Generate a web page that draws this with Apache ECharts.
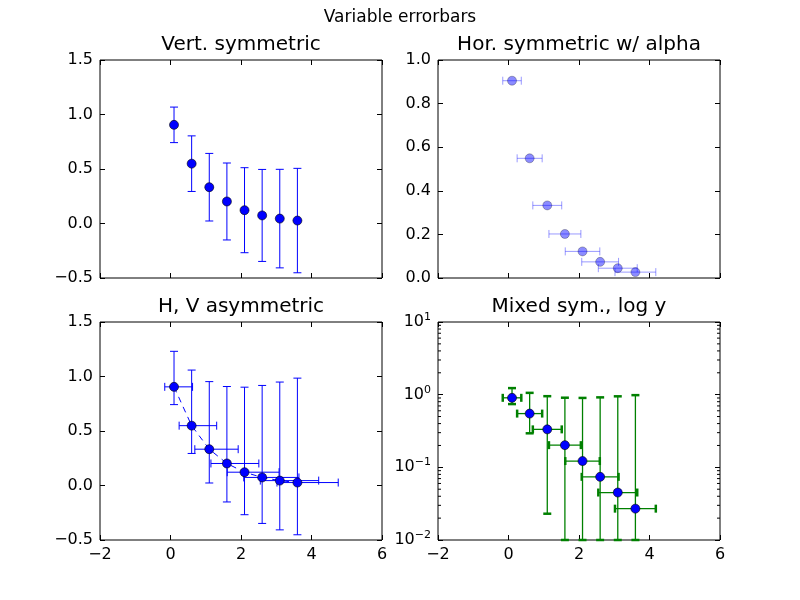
<!DOCTYPE html>
<html>
<head>
<meta charset="utf-8">
<script src="https://cdn.jsdelivr.net/npm/echarts@6/dist/echarts.min.js"></script>
<style>
  html, body { margin: 0; padding: 0; background: #fff; }
  #chart { width: 800px; height: 600px; }
</style>
</head>
<body>
<div id="chart"></div>
<script>
// values
var xs = [0.1, 0.6, 1.1, 1.6, 2.1, 2.6, 3.1, 3.6];
var ys = [0.905, 0.549, 0.333, 0.202, 0.122, 0.074, 0.045, 0.027];
var yErr = [0.163, 0.255, 0.310, 0.353, 0.390, 0.422, 0.452, 0.479];
var xErr = [0.263, 0.355, 0.410, 0.453, 0.490, 0.522, 0.552, 0.579];
// asymmetric (upper side) errors, bottom-left panel
var yErrUp = [0.326, 0.510, 0.620, 0.706, 0.780, 0.844, 0.904, 0.958];
var xErrUp = [0.526, 0.710, 0.820, 0.906, 0.980, 1.044, 1.104, 1.158];
// lower y errors on the log panel (clipped at 0.01)
var yErrLogLow = [0.163, 0.255, 0.310, 0.192, 0.112, 0.064, 0.035, 0.017];

var titles = ['Vert. symmetric', 'Hor. symmetric w/ alpha', 'H, V asymmetric', 'Mixed sym., log y'];
var xTicks = { min: -2, max: 6, interval: 2 };
var logMinor = [0.02, 0.03, 0.04, 0.05, 0.06, 0.07, 0.08, 0.09,
                0.2, 0.3, 0.4, 0.5, 0.6, 0.7, 0.8, 0.9,
                2, 3, 4, 5, 6, 7, 8, 9];

var FONT = 'DejaVu Sans';
var grids = [
    { left: 100, top: 60, width: 282, height: 218 },
    { left: 438, top: 60, width: 282, height: 218 },
    { left: 100, top: 322, width: 282, height: 218 },
    { left: 438, top: 322, width: 282, height: 218 }
];

function minus(s) { return String(s).replace('-', '\u2212'); }

// [x, y, xlo, xhi, ylo, yhi]
function errData(xl, xh, yl, yh) {
    return xs.map(function (x, i) {
        return [x, ys[i],
            x - (xl ? xl[i] : 0), x + (xh ? xh[i] : 0),
            ys[i] - (yl ? yl[i] : 0), ys[i] + (yh ? yh[i] : 0)];
    });
}

function errSeries(idx, data, opt) {
    return {
        type: 'custom',
        xAxisIndex: idx * 2, yAxisIndex: idx * 2,
        data: data,
        encode: { x: 0, y: 1 },
        z: 1,
        silent: true,
        renderItem: function (params, api) {
            var x = api.value(0), y = api.value(1);
            var c = api.coord([x, y]);
            var lo = api.coord([api.value(2), y]);
            var hi = api.coord([api.value(3), y]);
            var bot = api.coord([x, api.value(4)]);
            var top = api.coord([x, api.value(5)]);
            var cap = 4;
            var st = { stroke: opt.color, lineWidth: opt.width, opacity: opt.opacity };
            var capSt = { stroke: opt.color, lineWidth: opt.capWidth, opacity: opt.opacity };
            var kids = [];
            if (opt.horiz) {
                kids.push({ type: 'line', shape: { x1: lo[0], y1: c[1], x2: hi[0], y2: c[1] }, style: st });
                kids.push({ type: 'line', shape: { x1: lo[0], y1: c[1] - cap, x2: lo[0], y2: c[1] + cap }, style: capSt });
                kids.push({ type: 'line', shape: { x1: hi[0], y1: c[1] - cap, x2: hi[0], y2: c[1] + cap }, style: capSt });
            }
            if (opt.vert) {
                kids.push({ type: 'line', shape: { x1: c[0], y1: bot[1], x2: c[0], y2: top[1] }, style: st });
                kids.push({ type: 'line', shape: { x1: c[0] - cap, y1: bot[1], x2: c[0] + cap, y2: bot[1] }, style: capSt });
                kids.push({ type: 'line', shape: { x1: c[0] - cap, y1: top[1], x2: c[0] + cap, y2: top[1] }, style: capSt });
            }
            return { type: 'group', children: kids };
        }
    };
}

function dots(idx, opacity) {
    return {
        type: 'scatter',
        xAxisIndex: idx * 2, yAxisIndex: idx * 2,
        data: xs.map(function (x, i) { return [x, ys[i]]; }),
        symbol: 'circle', symbolSize: 9,
        itemStyle: { color: '#0000ff', borderColor: '#000', borderWidth: 0.6, opacity: opacity },
        z: 3, silent: true
    };
}

var tickStyle = { inside: true, length: 5, lineStyle: { color: '#000' } };
var xAxes = [], yAxes = [];
grids.forEach(function (g, i) {
    var showX = i >= 2;
    var base = {
        gridIndex: i, type: 'value', min: xTicks.min, max: xTicks.max, interval: xTicks.interval,
        axisLine: { show: false, onZero: false },
        axisTick: tickStyle,
        splitLine: { show: false }
    };
    xAxes.push(Object.assign({}, base, {
        position: 'bottom',
        axisLabel: { show: showX, margin: 7, color: '#000', fontFamily: FONT, fontSize: 16, formatter: function (v) { return minus(v); } }
    }));
    xAxes.push(Object.assign({}, base, { position: 'top', axisLabel: { show: false } }));

    var yBase;
    if (i === 3) {
        yBase = { gridIndex: i, type: 'log', logBase: 10, min: 0.01, max: 10 };
    } else if (i === 1) {
        yBase = { gridIndex: i, type: 'value', min: 0, max: 1, interval: 0.2 };
    } else {
        yBase = { gridIndex: i, type: 'value', min: -0.5, max: 1.5, interval: 0.5 };
    }
    Object.assign(yBase, {
        axisLine: { show: false, onZero: false },
        axisTick: tickStyle,
        splitLine: { show: false }
    });
    var lab = { margin: 7, color: '#000', fontFamily: FONT, fontSize: 16 };
    if (i === 3) {
        lab.formatter = function (v) {
            var e = Math.round(Math.log(v) / Math.LN10);
            return '10{e|' + minus(e) + '}';
        };
        lab.rich = { e: { fontSize: 11, fontFamily: FONT, color: '#000', padding: [0, 0, 10, 0] } };
    } else {
        lab.formatter = function (v) { return minus(v.toFixed(1)); };
    }
    yAxes.push(Object.assign({}, yBase, { position: 'left', axisLabel: lab }));
    yAxes.push(Object.assign({}, yBase, { position: 'right', axisLabel: { show: false } }));
});

var series = [
    errSeries(0, errData(null, null, yErr, yErr), { color: '#0000ff', width: 1, capWidth: 1, opacity: 1, vert: true }),
    dots(0, 1),
    errSeries(1, errData(xErr, xErr, null, null), { color: '#0000ff', width: 1, capWidth: 1, opacity: 0.4, horiz: true }),
    dots(1, 0.45),
    {
        type: 'line', xAxisIndex: 4, yAxisIndex: 4,
        data: xs.map(function (x, i) { return [x, ys[i]]; }),
        symbol: 'none', silent: true, z: 2,
        lineStyle: { color: '#0000ff', width: 1, type: [6, 5] }
    },
    errSeries(2, errData(xErr, xErrUp, yErr, yErrUp), { color: '#0000ff', width: 1, capWidth: 1, opacity: 1, vert: true, horiz: true }),
    dots(2, 1),
    errSeries(3, errData(xErr, xErr, yErrLogLow, yErrUp), { color: '#008000', width: 1.3, capWidth: 2.5, opacity: 1, vert: true, horiz: true }),
    dots(3, 1),
    {
        // minor ticks of the log axis, both sides
        type: 'custom', xAxisIndex: 6, yAxisIndex: 6,
        data: logMinor.map(function (v) { return [0, v]; }),
        encode: { x: 0, y: 1 }, silent: true, z: 4,
        renderItem: function (params, api) {
            var cs = params.coordSys;
            var yy = api.coord([0, api.value(1)])[1];
            var st = { stroke: '#000', lineWidth: 1 };
            return {
                type: 'group', children: [
                    { type: 'line', shape: { x1: cs.x, y1: yy, x2: cs.x + 3, y2: yy }, style: st },
                    { type: 'line', shape: { x1: cs.x + cs.width - 3, y1: yy, x2: cs.x + cs.width, y2: yy }, style: st }
                ]
            };
        }
    }
];

var titleList = [{
    text: 'Variable errorbars', left: 400, top: 9, textAlign: 'center', padding: 0,
    textStyle: { fontFamily: FONT, fontSize: 17, fontWeight: 'normal', color: '#000' }
}];
grids.forEach(function (g, i) {
    titleList.push({
        text: titles[i], left: g.left + g.width / 2, top: g.top - 25, textAlign: 'center', padding: 0,
        textStyle: { fontFamily: FONT, fontSize: 20, fontWeight: 'normal', color: '#000' }
    });
});

var chart = echarts.init(document.getElementById('chart'), null, { renderer: 'canvas' });
chart.setOption({
    animation: false,
    backgroundColor: '#fff',
    title: titleList,
    grid: grids.map(function (g) {
        return Object.assign({ show: true, borderColor: '#000', borderWidth: 1, backgroundColor: '#fff' }, g);
    }),
    xAxis: xAxes,
    yAxis: yAxes,
    series: series
});
</script>
</body>
</html>
